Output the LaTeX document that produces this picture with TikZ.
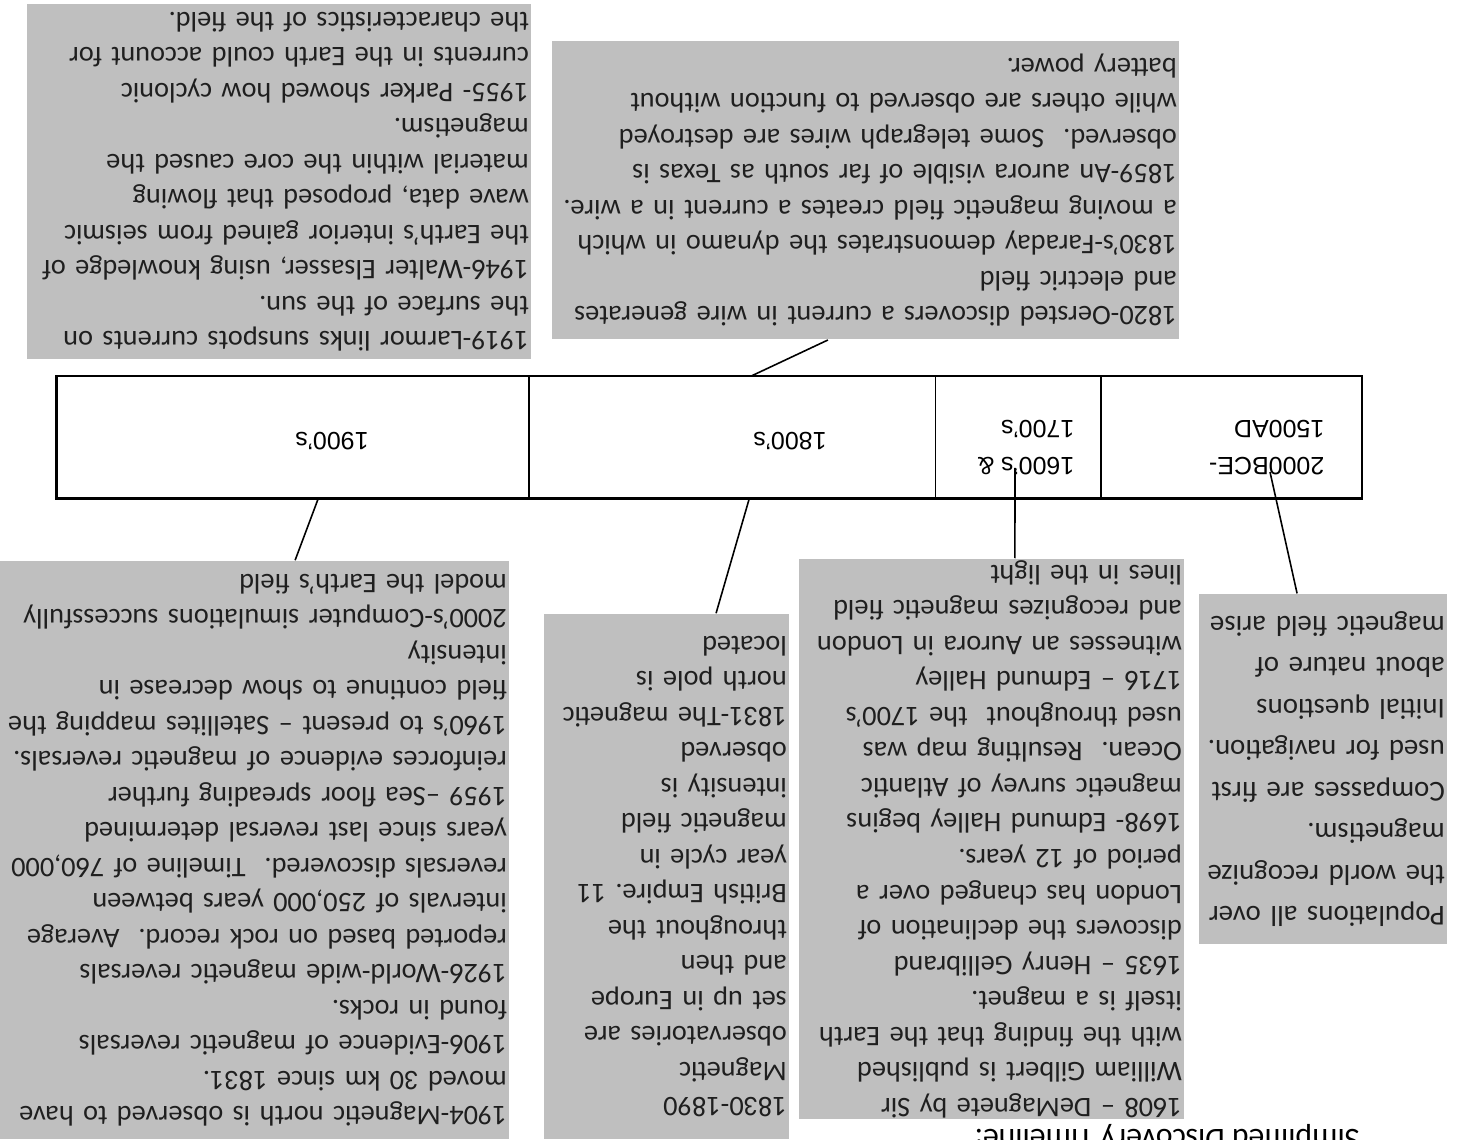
\documentclass[tikz,border=0pt]{standalone}
\usepackage{fontspec}
\setmainfont{Carlito}
\newfontfamily\barfont{Liberation Sans}
\usetikzlibrary{calc}
\frenchspacing

\begin{document}
\begin{tikzpicture}[x=0.01cm,y=0.01cm,
    note/.style={fill=black!25, text=black!88, align=left, anchor=north west,
      inner xsep=0.7pt, inner ysep=0pt, font=\fontsize{8.05}{10.1}\selectfont},
    seg/.style={draw, line width=0.4pt, anchor=south west, inner sep=0pt, minimum height=1.21cm},
    barlabel/.style={inner sep=0pt, align=left, font=\barfont\fontsize{7.1}{10.5}\selectfont},
    link/.style={line width=0.45pt}]
  \useasboundingbox (0,0) rectangle (1466,1140);
  \clip (0,0) rectangle (1466,1140);
  \fill[white] (0,0) rectangle (1466,1140);
  % the page was scanned upside down
  \begin{scope}[rotate around={180:(733,570)}, transform shape]
    % Title, cut by the page edge
    \node[anchor=base west, inner sep=0pt, font=\fontsize{9}{11}\selectfont] (title) at (106,1130) {Simplified Discovery Timeline:};

    % Timeline bar
    \node[seg, minimum width=2.60cm] (seg1) at (104,376) {};
    \node[seg, minimum width=1.66cm] (seg2) at (364,376) {};
    \node[seg, minimum width=4.06cm] (seg3) at (530,376) {};
    \node[seg, minimum width=4.72cm] (seg4) at (936,376) {};
    \draw[line width=0.8pt] (seg1.south west) rectangle (seg4.north east);
    \node[barlabel, anchor=west] (lab1) at (141,448) {2000BCE-\\1500AD};
    \node[barlabel, anchor=west] (lab2) at (391,448) {1600’s \&\\1700’s};
    \node[barlabel] (lab3) at (676,441) {1800’s};
    \node[barlabel] (lab4) at (1134,441) {1900’s};

    % Boxes above the bar
    \node[note, text width=2.43cm, minimum height=3.50cm, font=\fontsize{8.2}{11.8}\selectfont] (ancient) at (18,945) {Populations all over\\
      the world recognize\\
      magnetism.\\
      Compasses are first\\
      used for navigation.\\
      Initial questions\\
      about nature of\\
      magnetic field arise};
    \node[note, text width=3.80cm, minimum height=5.60cm] (early) at (281,1120) {1608 – DeMagnete by Sir\\
      William Gilbert is published\\
      with the finding that the Earth\\
      itself is a magnet.\\
      1635 – Henry Gellibrand\\
      discovers the declination of\\
      London has changed over a\\
      period of 12 years.\\
      1698- Edmund Halley begins\\
      magnetic survey of Atlantic\\
      Ocean.~ Resulting map was\\
      used throughout~ the 1700’s\\
      1716 – Edmund Halley\\
      witnesses an Aurora in London\\
      and recognizes magnetic field\\
      lines in the light};
    \node[note, text width=2.40cm, minimum height=5.25cm] (obs) at (676,1140) {1830-1890\\
      Magnetic\\
      observatories are\\
      set up in Europe\\
      and then\\
      throughout the\\
      British Empire. 11\\
      year cycle in\\
      magnetic field\\
      intensity is\\
      observed\\
      1831-The magnetic\\
      north pole is\\
      located};
    \node[note, text width=5.05cm, minimum height=5.78cm] (modern) at (956,1140) {1904-Magnetic north is observed to have\\
      moved 30 km since 1831.\\
      1906-Evidence of magnetic reversals\\
      found in rocks.\\
      1926-World-wide magnetic reversals\\
      reported based on rock record.~ Average\\
      intervals of 250,000 years between\\
      reversals discovered.~ Timeline of 760,000\\
      years since last reversal determined\\
      1959 –Sea floor spreading further\\
      reinforces evidence of magnetic reversals.\\
      1960’s to present – Satellites mapping the\\
      field continue to show decrease in\\
      intensity\\
      2000’s-Computer simulations successfully\\
      model the Earth’s field};

    % Boxes below the bar
    \node[note, text width=6.22cm, minimum height=2.98cm] (faraday) at (286,340) {1820-Oersted discovers a current in wire generates\\
      and electric field\\
      1830’s-Faraday demonstrates the dynamo in which\\
      a moving magnetic field creates a current in a wire.\\
      1859-An aurora visible of far south as Texas is\\
      observed.~ Some telegraph wires are destroyed\\
      while others are observed to function without\\
      battery power.};
    \node[note, text width=4.99cm, minimum height=3.55cm] (core) at (934,360) {1919-Larmor links sunspots currents on\\
      the surface of the sun.\\
      1946-Walter Elsasser, using knowledge of\\
      the Earth’s interior gained from seismic\\
      wave data, proposed that flowing\\
      material within the core caused the\\
      magnetism.\\
      1955- Parker showed how cyclonic\\
      currents in the Earth could account for\\
      the characteristics of the field.};

    % Connectors
    \coordinate (tipA) at (196,472);
    \coordinate (tipB) at (451,468);
    \draw[link] ($(ancient.south west)!0.605!(ancient.south east)$) -- (tipA);
    \draw[link] ($(early.south west)!0.44!(early.south east)$) -- (tipB);
    \draw[link] ($(obs.south west)!0.30!(obs.south east)$) -- ($(seg3.north west)!0.458!(seg3.north east)$);
    \draw[link] ($(modern.south west)!0.42!(modern.south east)$) -- ($(seg4.north west)!0.447!(seg4.north east)$);
    \draw[link] ($(faraday.north west)!0.56!(faraday.north east)$) -- ($(seg3.south west)!0.453!(seg3.south east)$);
  \end{scope}
\end{tikzpicture}
\end{document}
